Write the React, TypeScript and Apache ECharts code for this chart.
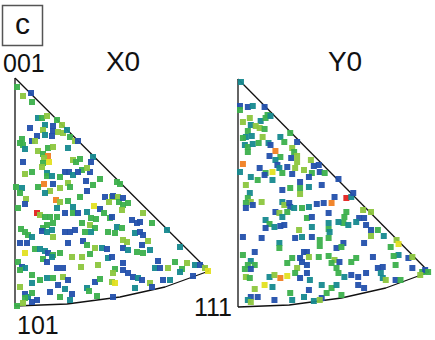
import React, { useEffect, useRef } from "react";
import * as echarts from "echarts";

// colour levels: 0 blue, 1 teal, 2 green, 3 light green, 4 yellow, 5 orange, 6 red
const levelColors = ["#2350ac", "#16898f", "#3cb04c", "#8cc63e", "#e3e021", "#f07f22", "#e3241f"];

// triangle outline in local units (origin at the 001 corner, y downward)
const edge001_101 = [[0, 0], [0, 228]];
const edge001_111 = [[0, 0], [194, 193]];
const arc101_111 = [[0, 228], [52, 226], [105, 219], [150, 209], [194, 193]];

const pointsX0: number[][] = [
  [2,9,2],[16,15,0],[8,18,3],[17,24,2],[23,40,1],[27,40,2],[32,38,3],[15,50,0],[30,47,1],[38,48,0],
  [42,42,2],[47,47,3],[28,52,3],[38,53,0],[43,54,3],[48,55,3],[52,52,1],[37,58,0],[30,57,1],[22,58,0],
  [55,59,2],[60,63,3],[63,63,0],[7,61,2],[5,65,2],[8,67,2],[17,63,0],[20,63,3],[10,71,1],[23,73,3],
  [33,70,2],[38,69,3],[28,76,2],[33,78,5],[29,80,3],[34,84,4],[28,85,2],[27,89,3],[53,70,1],[58,82,3],
  [65,81,2],[61,84,2],[78,79,1],[76,84,0],[8,84,0],[17,94,2],[10,96,3],[32,95,1],[50,94,0],[54,94,0],
  [67,92,2],[75,94,0],[72,90,3],[32,98,2],[37,98,1],[45,99,2],[58,97,1],[63,94,0],[1,109,2],[7,110,1],
  [5,115,2],[23,109,2],[29,106,5],[38,106,0],[35,113,3],[30,115,1],[45,110,3],[53,105,3],[55,109,2],[71,103,0],
  [78,107,2],[72,113,0],[65,119,2],[85,101,2],[11,121,3],[10,126,0],[41,122,5],[45,124,3],[53,123,2],[58,129,1],
  [79,128,4],[85,131,0],[90,119,0],[94,124,3],[97,119,3],[3,130,2],[22,135,6],[25,137,3],[30,139,2],[35,139,2],
  [42,130,1],[42,139,2],[50,135,0],[58,135,2],[63,135,0],[72,134,1],[76,140,2],[81,141,2],[89,135,2],[95,140,2],
  [38,145,2],[32,147,2],[28,150,2],[6,151,2],[10,154,2],[27,153,0],[32,154,1],[37,152,1],[13,157,2],[17,159,1],
  [50,154,0],[55,154,0],[60,152,0],[67,145,2],[75,147,3],[80,150,2],[70,154,2],[76,154,1],[93,154,2],[38,159,3],
  [5,165,0],[12,165,0],[10,175,4],[20,171,2],[25,171,1],[30,173,1],[33,175,0],[38,177,2],[45,175,2],[53,165,0],
  [68,163,0],[72,167,2],[57,179,3],[67,179,3],[75,176,2],[80,170,3],[87,170,1],[92,171,0],[93,180,1],[83,187,3],
  [66,189,3],[3,184,2],[7,189,0],[10,190,1],[5,192,2],[28,181,2],[32,184,0],[37,179,1],[42,190,0],[48,190,0],
  [17,197,2],[25,202,2],[32,200,1],[38,200,2],[48,199,3],[53,202,0],[5,209,3],[17,205,1],[35,214,0],[43,207,0],
  [50,211,1],[57,216,0],[72,210,1],[80,204,0],[85,201,2],[97,204,3],[74,213,2],[10,216,0],[13,219,1],[17,215,2],
  [10,220,2],[17,224,0],[22,222,0],[2,228,2],[45,219,2],[55,222,1],[82,218,2],[8,225,3],
  [102,104,2],[105,106,2],[98,118,0],[103,119,3],[104,124,2],[108,120,0],[108,127,2],[113,125,2],[107,132,3],[97,139,0],
  [117,142,0],[122,145,0],[125,144,0],[128,135,3],[137,145,2],[102,149,1],[107,150,2],[100,155,2],[120,155,1],[125,154,0],
  [128,157,0],[152,152,1],[108,162,3],[112,164,3],[108,170,0],[113,172,1],[133,163,3],[127,167,0],[122,174,2],[128,175,2],
  [135,172,1],[165,169,1],[97,179,0],[100,191,2],[98,195,3],[108,185,0],[108,192,0],[113,195,0],[118,199,0],[123,200,1],
  [127,202,0],[143,183,0],[140,190,1],[145,190,0],[153,190,3],[160,184,2],[167,191,2],[172,185,3],[180,187,1],[185,187,0],
  [190,190,3],[193,193,4],[165,194,1],[148,202,0],[155,202,1],[178,198,0],[100,205,4],[120,210,1],[135,205,3],[137,209,0],
  [98,219,0]
];

const pointsY0: number[][] = [
  [3,3,1],[2,27,0],[2,31,2],[10,28,0],[15,27,1],[27,28,0],[5,43,3],[12,39,3],[13,46,1],[23,42,1],
  [28,39,2],[30,36,2],[33,37,1],[18,47,3],[22,49,3],[27,50,2],[10,52,2],[8,58,1],[5,59,2],[14,57,1],
  [25,58,3],[53,54,2],[43,58,1],[47,63,2],[60,63,0],[7,66,1],[10,68,2],[10,73,2],[15,65,1],[21,64,2],
  [31,64,1],[33,66,0],[55,69,3],[57,73,2],[38,72,5],[32,77,0],[43,78,2],[38,81,1],[54,79,0],[60,77,3],
  [60,83,3],[74,81,3],[77,87,0],[82,86,0],[5,85,5],[22,89,0],[28,94,2],[35,93,4],[40,86,0],[42,89,1],
  [50,88,0],[58,89,3],[45,94,2],[67,91,3],[75,94,2],[83,93,0],[88,94,2],[2,93,1],[27,96,0],[55,95,0],
  [72,98,0],[13,98,1],[20,101,2],[35,101,1],[8,106,3],[12,114,1],[45,111,0],[53,109,2],[63,103,0],[63,109,2],
  [72,108,1],[85,106,0],[63,115,3],[10,119,2],[13,123,3],[8,124,2],[15,126,0],[8,129,0],[24,123,3],[45,123,1],
  [47,126,3],[52,124,0],[53,128,0],[57,129,1],[65,129,2],[72,128,1],[80,125,0],[87,124,0],[95,124,5],[92,134,0],
  [38,133,0],[42,134,3],[50,133,2],[45,138,1],[70,139,2],[75,138,0],[28,141,1],[32,145,2],[37,148,1],[43,147,0],
  [47,146,0],[28,149,0],[62,151,3],[75,148,1],[92,144,1],[92,150,2],[93,153,1],[5,158,0],[24,159,0],[58,159,0],
  [65,158,1],[75,158,0],[83,161,2],[92,159,2],[42,164,1],[42,169,2],[67,173,0],[70,173,0],[83,167,2],[17,173,0],
  [5,176,2],[55,179,2],[63,179,0],[72,178,3],[82,178,2],[92,177,2],[65,183,0],[70,186,0],[13,182,1],[10,186,2],
  [17,186,2],[7,190,2],[13,190,0],[8,198,3],[12,199,2],[50,184,2],[60,189,3],[58,194,2],[63,199,0],[70,194,0],
  [73,201,1],[32,198,1],[37,196,3],[43,199,5],[50,197,4],[85,206,1],[95,209,2],[27,206,4],[35,208,1],[17,210,3],
  [53,214,2],[67,218,1],[72,211,0],[85,219,0],[90,214,2],[13,218,0],[10,221,1],[13,223,3],[20,218,0],[37,221,0],
  [55,221,1],[77,222,1],[83,221,3],
  [102,100,0],[98,118,0],[110,119,6],[115,118,1],[117,114,0],[110,133,2],[108,138,2],[127,131,3],[135,133,3],[123,139,0],
  [128,139,0],[120,143,1],[107,144,2],[112,146,1],[102,143,1],[130,146,0],[135,151,0],[142,151,2],[135,157,3],[148,157,1],
  [161,161,3],[163,165,4],[128,164,0],[107,164,0],[100,169,0],[105,168,2],[155,168,2],[163,176,1],[158,177,2],[173,179,0],
  [177,178,3],[98,181,3],[95,184,2],[103,183,0],[120,179,2],[115,183,2],[137,178,0],[160,186,2],[142,189,0],[147,188,0],
  [177,189,0],[100,189,2],[102,194,2],[108,198,1],[115,196,0],[122,198,0],[130,194,0],[145,194,1],[147,199,1],[150,201,3],
  [160,201,0],[165,201,2],[187,193,2],[190,191,0],[193,193,2],[185,196,3],[100,206,1],[122,206,0],[128,209,0],[105,216,2]
];

const panels = [
  { name: "X0", left: 15, top: 78, points: pointsX0 },
  { name: "Y0", left: 238, top: 79, points: pointsY0 },
];

const FONT = "Liberation Sans, Arial, sans-serif";

export default function App() {
  const ref = useRef<HTMLDivElement>(null);
  useEffect(() => {
    if (!ref.current) return;
    const chart = echarts.init(ref.current, null, { renderer: "svg" });
    const grids: any[] = [];
    const xAxes: any[] = [];
    const yAxes: any[] = [];
    const series: any[] = [];
    panels.forEach((p, i) => {
      grids.push({ left: p.left, top: p.top, width: 200, height: 235 });
      xAxes.push({ gridIndex: i, type: "value", min: 0, max: 200, show: false });
      yAxes.push({ gridIndex: i, type: "value", min: 0, max: 235, inverse: true, show: false });
      [edge001_101, edge001_111, arc101_111].forEach((edge) => {
        series.push({
          type: "line",
          xAxisIndex: i,
          yAxisIndex: i,
          data: edge,
          symbol: "none",
          lineStyle: { color: "#111", width: 1.3 },
          silent: true,
          z: 1,
        });
      });
      series.push({
        type: "scatter",
        xAxisIndex: i,
        yAxisIndex: i,
        data: p.points,
        symbol: "rect",
        symbolSize: 6,
        itemStyle: { color: (d: any) => levelColors[d.value[2]], opacity: 0.95 },
        z: 2,
      });
    });
    chart.setOption({
      animation: false,
      backgroundColor: "#ffffff",
      grid: grids,
      xAxis: xAxes,
      yAxis: yAxes,
      series,
      graphic: [
        { type: "rect", shape: { x: 2.5, y: 5.5, width: 40, height: 40 }, style: { fill: "#fff", stroke: "#555", lineWidth: 1.5 } },
        { type: "text", x: 22.5, y: 23, style: { text: "c", font: `30px ${FONT}`, fill: "#111", align: "center", verticalAlign: "middle" } },
        { type: "text", x: 3, y: 63, style: { text: "001", font: `25px ${FONT}`, fill: "#111", align: "left", verticalAlign: "middle" } },
        { type: "text", x: 123, y: 61, style: { text: "X0", font: `28px ${FONT}`, fill: "#111", align: "center", verticalAlign: "middle" } },
        { type: "text", x: 345, y: 61, style: { text: "Y0", font: `28px ${FONT}`, fill: "#111", align: "center", verticalAlign: "middle" } },
        { type: "text", x: 17, y: 325, style: { text: "101", font: `25px ${FONT}`, fill: "#111", align: "left", verticalAlign: "middle" } },
        { type: "text", x: 194, y: 307, style: { text: "111", font: `25px ${FONT}`, fill: "#111", align: "left", verticalAlign: "middle" } },
      ],
    });
    return () => chart.dispose();
  }, []);
  return <div ref={ref} style={{ position: "absolute", left: 0, top: 0, width: 435, height: 340 }} />;
}
